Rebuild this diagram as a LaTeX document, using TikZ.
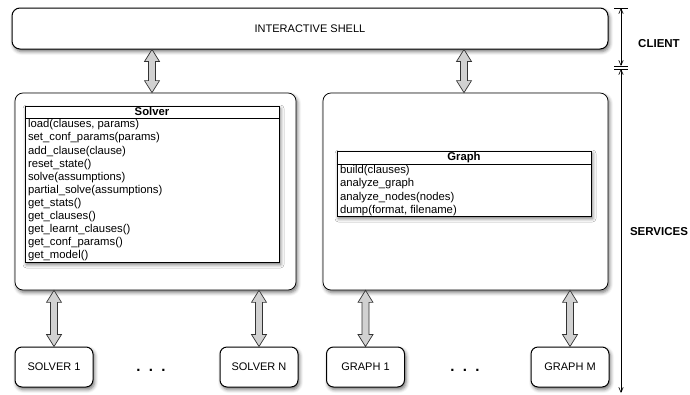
\documentclass[tikz,border=0pt]{standalone}
\usepackage{fontspec}
\setmainfont{Liberation Sans}
\usetikzlibrary{shadows.blur,arrows.meta,calc}

\tikzset{
  softshadow/.style={blur shadow={shadow xshift=1.5pt, shadow yshift=-2.5pt,
      shadow blur radius=3.5pt, shadow opacity=55}},
  roundbox/.style={draw=black, line width=1pt, fill=white, rounded corners=8pt,
      inner sep=0pt, softshadow, font=\fontsize{11}{13}\selectfont},
  container/.style={roundbox, line width=0.75pt},
  worker/.style={roundbox, rounded corners=7pt, minimum width=78pt, minimum height=40pt},
  classbox/.style={draw=black, line width=0.9pt, fill=white, inner sep=0pt,
      minimum width=254pt, softshadow},
  classhead/.style={inner sep=0pt, minimum width=254pt,
      font=\fontsize{11.3}{13}\selectfont\bfseries},
  methods/.style={inner xsep=3pt, inner ysep=1.5pt, align=left,
      font=\fontsize{11.3}{13.1}\selectfont},
  layerlabel/.style={font=\fontsize{11.5}{13}\selectfont\bfseries},
  dotsnode/.style={font=\fontsize{15}{15}\selectfont\bfseries},
  blockarrow/.style={draw=black!80, line width=0.7pt, fill=black!18, line join=miter},
  dimline/.style={line width=0.6pt, {Straight Barb[length=5pt,width=4.5pt]}-{Straight Barb[length=5pt,width=4.5pt]}},
  dimtick/.style={line width=0.6pt},
}

% hollow two-headed block arrow between two points on one vertical
\newcommand\blockarrow[2]{%
  \path[blockarrow] let \p1=(#1), \p2=(#2) in
    (\x1,\y1) -- (\x1-7.5pt,\y1-12pt) -- (\x1-3.5pt,\y1-12pt)
    -- (\x1-3.5pt,\y2+12pt) -- (\x1-7.5pt,\y2+12pt) -- (\x1,\y2)
    -- (\x1+7.5pt,\y2+12pt) -- (\x1+3.5pt,\y2+12pt)
    -- (\x1+3.5pt,\y1-12pt) -- (\x1+7.5pt,\y1-12pt) -- cycle;}

\begin{document}
\begin{tikzpicture}[x=1pt, y=-1pt]
\useasboundingbox (0,0) rectangle (690,394);

% client layer
\node[roundbox, minimum width=596pt, minimum height=41pt] (shell) at (310,28.5) {INTERACTIVE SHELL};

% service containers
\node[container, minimum width=281pt, minimum height=197pt] (solvercont) at (155.5,191.5) {};
\node[container, minimum width=285pt, minimum height=197pt] (graphcont) at (465.5,191.5) {};

% Solver class
\node[classbox, minimum height=156pt] (solver) at (152,184) {};
\node[classhead, minimum height=12pt, anchor=north] (solverhead) at (solver.north) {Solver};
\draw[line width=0.9pt] (solverhead.south west) -- (solverhead.south east);
\node[methods, anchor=north west] (solvermethods) at (solverhead.south west) {%
load(clauses, params)\\
set\_conf\_params(params)\\
add\_clause(clause)\\
reset\_state()\\
solve(assumptions)\\
partial\_solve(assumptions)\\
get\_stats()\\
get\_clauses()\\
get\_learnt\_clauses()\\
get\_conf\_params()\\
get\_model()};

% Graph class
\node[classbox, minimum height=65pt] (graph) at (464,183.5) {};
\node[classhead, minimum height=13pt, anchor=north] (graphhead) at (graph.north) {Graph};
\draw[line width=0.9pt] (graphhead.south west) -- (graphhead.south east);
\node[methods, anchor=north west] (graphmethods) at (graphhead.south west) {%
build(clauses)\\
analyze\_graph\\
analyze\_nodes(nodes)\\
dump(format, filename)};

% worker processes
\node[worker] (s1) at (54,367) {SOLVER 1};
\node[worker] (sn) at (259,367) {SOLVER N};
\node[worker] (g1) at (365.5,367) {GRAPH 1};
\node[worker] (gm) at (570,367) {GRAPH M};
\node[dotsnode] (sdots) at (151,370.5) {.\hspace{8.3pt}.\hspace{8.3pt}.};
\node[dotsnode] (gdots) at (465,370.5) {.\hspace{8.3pt}.\hspace{8.3pt}.};

% links
\blockarrow{shell.south -| solver.north}{solvercont.north -| solver.north}
\blockarrow{shell.south -| graph.north}{graphcont.north -| graph.north}
\blockarrow{solvercont.south -| s1.north}{s1.north}
\blockarrow{solvercont.south -| sn.north}{sn.north}
\blockarrow{graphcont.south -| g1.north}{g1.north}
\blockarrow{graphcont.south -| gm.north}{gm.north}

% layer dimensions
\coordinate (cltop) at (621,8);
\coordinate (clbot) at (621,66);
\coordinate (svtop) at (621,69);
\coordinate (svbot) at (621,393);
\draw[dimline] (cltop) -- (clbot);
\draw[dimline] (svtop) -- (svbot);
\foreach \c in {cltop,clbot,svtop}
  \draw[dimtick] ([xshift=-7pt]\c) -- ([xshift=7pt]\c);
\node[layerlabel] (client) at (659,44) {CLIENT};
\node[layerlabel] (services) at (659,232) {SERVICES};
\end{tikzpicture}
\end{document}
